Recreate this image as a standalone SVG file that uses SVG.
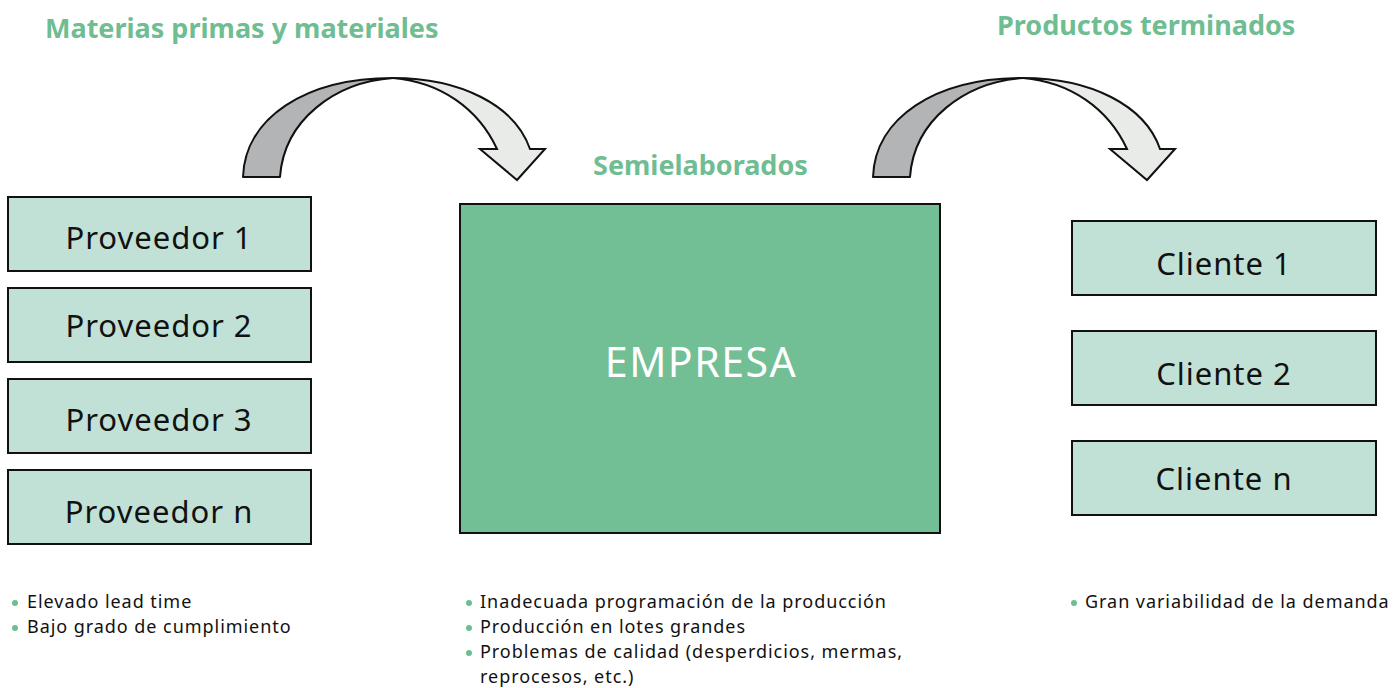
<svg xmlns="http://www.w3.org/2000/svg" width="1399" height="688" viewBox="0 0 1399 688">
<style>
.title{font-family:"Noto Sans","Liberation Sans",sans-serif;font-weight:bold;font-size:27px;fill:#6fbd92}
.box{fill:#c1e1d6;stroke:#111;stroke-width:2}
.lbl{font-family:"Noto Sans","Liberation Sans",sans-serif;font-size:31px;letter-spacing:1px;fill:#111;text-anchor:middle}
.bul{font-family:"Noto Sans","Liberation Sans",sans-serif;font-size:18px;letter-spacing:0.95px;fill:#111}
.dot{fill:#6fbd92}
.dark{fill:#b3b4b5;stroke:#111;stroke-width:2;stroke-linejoin:round}
.light{fill:#e9ebe9;stroke:#111;stroke-width:2;stroke-linejoin:miter}
</style>
<rect width="1399" height="688" fill="#fff"/>
<text class="title" x="45" y="38">Materias primas y materiales</text>
<text class="title" x="997" y="35">Productos terminados</text>
<text class="title" x="593" y="175">Semielaborados</text>
<g id="connectors">
<g id="arrow1">
<path class="dark" d="M243,177 C245,118 305,78 393,78 C335,82 284,120 280,177 Z"/>
<path class="light" d="M393,78 C460,78 515,105 530,149 L545,149 L517,180 L480,149 L497,149 C478,108 440,82 393,78 Z"/>
</g>
<g id="arrow2" transform="translate(630,0)">
<path class="dark" d="M243,177 C245,118 305,78 393,78 C335,82 284,120 280,177 Z"/>
<path class="light" d="M393,78 C460,78 515,105 530,149 L545,149 L517,180 L480,149 L497,149 C478,108 440,82 393,78 Z"/>
</g>
</g>
<g id="prov1"><rect class="box" x="8" y="197" width="303" height="74"/><text class="lbl" x="159" y="249">Proveedor 1</text></g>
<g id="prov2"><rect class="box" x="8" y="288" width="303" height="74"/><text class="lbl" x="159" y="337">Proveedor 2</text></g>
<g id="prov3"><rect class="box" x="8" y="379" width="303" height="74"/><text class="lbl" x="159" y="431">Proveedor 3</text></g>
<g id="provn"><rect class="box" x="8" y="470" width="303" height="74"/><text class="lbl" x="159" y="523">Proveedor n</text></g>
<g id="empresa"><rect x="460" y="204" width="480" height="329" fill="#72bf95" stroke="#111" stroke-width="2"/><text x="701" y="377" font-family="Noto Sans, Liberation Sans, sans-serif" font-size="41" letter-spacing="1.5" fill="#fff" text-anchor="middle">EMPRESA</text></g>
<g id="cli1"><rect class="box" x="1072" y="221" width="304" height="74"/><text class="lbl" x="1224" y="275">Cliente 1</text></g>
<g id="cli2"><rect class="box" x="1072" y="331" width="304" height="74"/><text class="lbl" x="1224" y="385">Cliente 2</text></g>
<g id="clin"><rect class="box" x="1072" y="441" width="304" height="74"/><text class="lbl" x="1224" y="490">Cliente n</text></g>
<g id="notes-prov">
<circle class="dot" cx="15" cy="603" r="3"/><text class="bul" x="27" y="608">Elevado lead time</text>
<circle class="dot" cx="15" cy="628" r="3"/><text class="bul" x="27" y="633">Bajo grado de cumplimiento</text>
</g>
<g id="notes-emp">
<circle class="dot" cx="469" cy="603" r="3"/><text class="bul" x="480" y="608">Inadecuada programación de la producción</text>
<circle class="dot" cx="469" cy="628" r="3"/><text class="bul" x="480" y="633">Producción en lotes grandes</text>
<circle class="dot" cx="469" cy="653" r="3"/><text class="bul" x="480" y="658">Problemas de calidad (desperdicios, mermas,</text>
<text class="bul" x="480" y="683">reprocesos, etc.)</text>
</g>
<g id="notes-cli">
<circle class="dot" cx="1074" cy="603" r="3"/><text class="bul" x="1085" y="608">Gran variabilidad de la demanda</text>
</g>
</svg>
